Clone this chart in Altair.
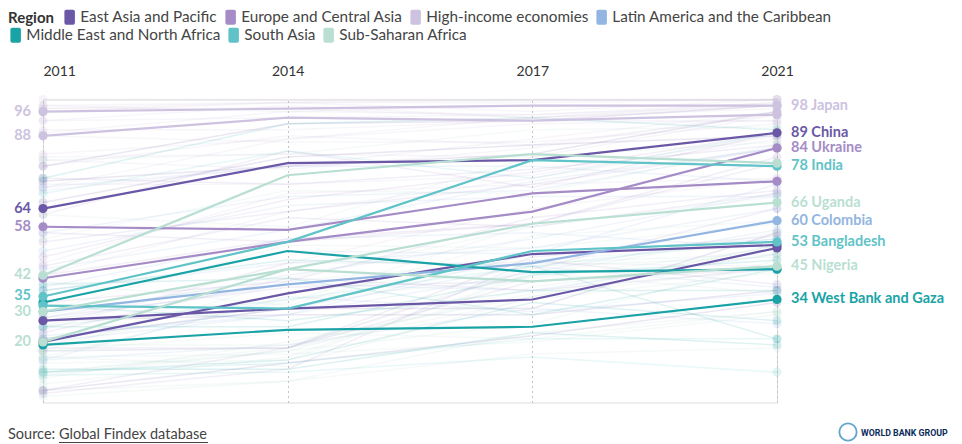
import altair as alt
import pandas as pd

years = [2011, 2014, 2017, 2021]
regions = ["East Asia and Pacific", "Europe and Central Asia", "High-income economies",
           "Latin America and the Caribbean", "Middle East and North Africa", "South Asia",
           "Sub-Saharan Africa"]
region_colors = ["#6a58a6", "#a58cc6", "#cdc2df", "#93b5e1", "#1aa3a6", "#5fc3c7", "#b9dfd2"]

# Highlighted economies
hl_names = ["Japan", "United States", "China", "Philippines", "Indonesia", "Turkey", "Ukraine",
            "Colombia", "Algeria", "West Bank and Gaza", "India", "Bangladesh", "Uganda",
            "Nigeria", "Kenya"]
hl_regions = ["High-income economies", "High-income economies", "East Asia and Pacific",
              "East Asia and Pacific", "East Asia and Pacific", "Europe and Central Asia",
              "Europe and Central Asia", "Latin America and the Caribbean",
              "Middle East and North Africa", "Middle East and North Africa", "South Asia",
              "South Asia", "Sub-Saharan Africa", "Sub-Saharan Africa", "Sub-Saharan Africa"]
hl_2011 = [96, 88, 64, 27, 20, 58, 41, 30, 33, 19, 35, 32, 20, 30, 42]
hl_2014 = [97, 94, 79, 31, 36, 57, 53, 39, 50, 24, 53, 31, 44, 44, 75]
hl_2017 = [98, 93, 80, 34, 49, 69, 63, 46, 43, 25, 80, 50, 59, 40, 82]
hl_2021 = [98, 95, 89, 51, 52, 73, 84, 60, 44, 34, 78, 53, 66, 45, 79]
hl_left_label = [True, True, True, False, False, True, False, False, False, False, True, False,
                 True, True, True]
hl_right_label = [True, False, True, False, False, False, True, True, False, True, True, True,
                  True, True, False]

# Background economies (faint lines)
bg_names = ["Denmark", "Germany", "Canada", "United Kingdom", "France", "Spain", "Italy", "Korea",
            "Singapore", "Hong Kong", "Israel", "Greece", "Portugal", "Poland", "Hungary",
            "Croatia", "Czechia", "Slovakia", "Chile", "Saudi Arabia", "Uruguay", "Panama",
            "Russia", "Kazakhstan", "Serbia", "Bulgaria", "Romania", "Georgia", "Armenia",
            "Kyrgyz Republic", "Tajikistan", "Uzbekistan", "Moldova", "Albania",
            "North Macedonia", "Bosnia and Herzegovina",
            "Thailand", "Malaysia", "Mongolia", "Vietnam", "Cambodia", "Lao PDR",
            "Brazil", "Argentina", "Mexico", "Peru", "Ecuador", "Bolivia", "Costa Rica",
            "Dominican Republic", "El Salvador", "Honduras", "Nicaragua", "Paraguay", "Venezuela",
            "Jamaica",
            "Egypt", "Morocco", "Tunisia", "Jordan", "Iran", "Iraq", "Lebanon",
            "Pakistan", "Nepal", "Sri Lanka", "Afghanistan",
            "South Africa", "Ghana", "Tanzania", "Zambia", "Zimbabwe", "Senegal", "Mali", "Benin",
            "Burkina Faso", "Cameroon", "Cote d'Ivoire", "Guinea", "Malawi", "Niger",
            "Sierra Leone", "Togo", "Mauritius", "Namibia", "Botswana", "Congo, Rep.", "Gabon",
            "Liberia", "Mauritania"]
bg_regions = (["High-income economies"] * 22 + ["Europe and Central Asia"] * 14
              + ["East Asia and Pacific"] * 6 + ["Latin America and the Caribbean"] * 14
              + ["Middle East and North Africa"] * 7 + ["South Asia"] * 4
              + ["Sub-Saharan Africa"] * 23)
bg_2011 = [100, 98, 96, 97, 97, 93, 71, 93, 98, 89, 90, 78, 82, 70, 72, 88, 81, 80, 42, 46, 24, 25,
           48, 42, 62, 53, 45, 33, 17, 4, 3, 23, 18, 28, 74, 56,
           73, 66, 78, 21, 4, 27,
           56, 33, 27, 20, 37, 28, 50, 38, 14, 21, 14, 22, 44, 71,
           10, 39, 32, 25, 74, 11, 37,
           10, 25, 69, 9,
           54, 29, 17, 21, 40, 6, 8, 10, 13, 15, 15, 4, 17, 2, 15, 10, 80, 62, 30, 9, 19, 19, 17]
bg_2014 = [100, 99, 99, 99, 97, 98, 87, 94, 96, 96, 90, 88, 87, 78, 72, 86, 82, 77, 63, 69, 46, 46,
           67, 54, 83, 63, 61, 40, 18, 18, 11, 41, 18, 38, 72, 53,
           78, 81, 92, 31, 13, 29,
           68, 50, 39, 29, 46, 42, 65, 54, 35, 31, 19, 29, 57, 78,
           14, 41, 27, 25, 92, 11, 47,
           13, 34, 83, 10,
           70, 41, 40, 36, 32, 15, 20, 17, 14, 12, 34, 7, 18, 7, 16, 18, 82, 58, 52, 17, 33, 19, 23]
bg_2017 = [100, 99, 100, 96, 94, 94, 94, 95, 98, 95, 93, 85, 92, 87, 75, 86, 81, 84, 74, 72, 64, 46,
           76, 59, 71, 72, 58, 61, 48, 40, 47, 37, 44, 40, 77, 59,
           82, 85, 93, 31, 22, 29,
           70, 49, 37, 43, 51, 54, 68, 56, 30, 45, 31, 49, 73, 78,
           33, 29, 37, 42, 94, 23, 45,
           21, 45, 74, 15,
           69, 58, 47, 46, 55, 42, 35, 38, 43, 35, 41, 23, 34, 16, 20, 45, 90, 81, 51, 26, 59, 36, 21]
bg_2021 = [100, 100, 100, 100, 99, 98, 97, 99, 98, 98, 93, 95, 93, 96, 88, 92, 95, 96, 87, 74, 74, 45,
           89, 81, 89, 84, 69, 70, 55, 45, 39, 44, 64, 44, 85, 79,
           96, 88, 98, 56, 33, 37,
           84, 72, 49, 57, 64, 69, 68, 51, 36, 38, 26, 54, 84, 73,
           27, 44, 37, 47, 90, 19, 21,
           21, 54, 89, 10,
           85, 68, 52, 49, 60, 56, 45, 49, 36, 52, 51, 30, 43, 18, 29, 48, 91, 86, 59, 47, 66, 52, 30]

source_prefix = "Source:"
source_link = "Global Findex database"
logo_text = "WORLD BANK GROUP"

rows = []
for i, n in enumerate(bg_names):
    for y, v in zip(years, [bg_2011[i], bg_2014[i], bg_2017[i], bg_2021[i]]):
        rows.append(dict(name=n, region=bg_regions[i], year=y, value=v, hl=False,
                         left=False, right=False, label=""))
for i, n in enumerate(hl_names):
    for y, v in zip(years, [hl_2011[i], hl_2014[i], hl_2017[i], hl_2021[i]]):
        rows.append(dict(name=n, region=hl_regions[i], year=y, value=v, hl=True,
                         left=hl_left_label[i], right=hl_right_label[i],
                         label=f"{v} {n}"))
df = pd.DataFrame(rows)

FONT = "Lato"
color_scale = alt.Scale(domain=regions, range=region_colors)
xenc = alt.X("year:O", scale=alt.Scale(type="point", padding=0),
             axis=alt.Axis(orient="top", title=None, labelAngle=0, ticks=False, domain=False,
                           labelFontSize=14, labelColor="#333", labelPadding=21, labelFont=FONT,
                           grid=True, gridDash=[2, 3], gridColor="#c4c4c4", gridWidth=1,
                           labelAlign={"condition": {"test": "datum.label == '2011'", "value": "left"},
                                       "value": "center"}))
yenc = alt.Y("value:Q", scale=alt.Scale(domain=[0, 100], nice=False), axis=None)
cenc = alt.Color("region:N", scale=color_scale, legend=None)

base = alt.Chart(df)
bg = base.transform_filter("!datum.hl")
hl = base.transform_filter("datum.hl")

bg_lines = bg.mark_line(strokeWidth=1.5, opacity=0.14).encode(x=xenc, y=yenc, color=cenc, detail="name:N")
bg_dots = bg.transform_filter("datum.year == 2011 || datum.year == 2021").mark_circle(
    size=80, opacity=0.18).encode(x=xenc, y=yenc, color=cenc)
hl_lines = hl.mark_line(strokeWidth=2.2).encode(x=xenc, y=yenc, color=cenc, detail="name:N")
hl_dots = hl.transform_filter("datum.year == 2011 || datum.year == 2021").mark_circle(
    size=85, opacity=1).encode(x=xenc, y=yenc, color=cenc)
left_labels = hl.transform_filter("datum.year == 2011 && datum.left").mark_text(
    align="right", baseline="middle", dx=-12, fontSize=14.5, fontWeight="bold", font=FONT).encode(
    x=xenc, y=yenc, color=cenc, text="value:Q")
right_labels = hl.transform_filter("datum.year == 2021 && datum.right").mark_text(
    align="left", baseline="middle", dx=14, fontSize=14.5, fontWeight="bold", font=FONT).encode(
    x=xenc, y=yenc, color=cenc, text="label:N")

swatch = ("M-0.45,-1 L0.45,-1 Q0.7,-1 0.7,-0.75 L0.7,0.75 Q0.7,1 0.45,1 L-0.45,1 "
          "Q-0.7,1 -0.7,0.75 L-0.7,-0.75 Q-0.7,-1 -0.45,-1 Z")
leg_common = dict(orient="none", direction="horizontal", labelFontSize=15.3, labelFont=FONT,
                  labelColor="#444", labelLimit=0, symbolType=swatch, symbolSize=225,
                  symbolStrokeWidth=0, symbolOpacity=1, labelOffset=3, columnPadding=5,
                  titleFont=FONT)
legA_df = pd.DataFrame({"region": regions[:4]})
legB_df = pd.DataFrame({"region": regions[4:]})
legA = alt.Chart(legA_df).mark_square(opacity=0).encode(
    fill=alt.Fill("region:N", scale=alt.Scale(domain=regions[:4], range=region_colors[:4]),
                  legend=alt.Legend(title="Region", titleOrient="left", titleFontSize=15,
                                    titleFontWeight="bold", titleColor="#333", titlePadding=8,
                                    legendX=-35, legendY=-90, **leg_common)))
legB = alt.Chart(legB_df).mark_square(opacity=0).encode(
    fill=alt.Fill("region:N", scale=alt.Scale(domain=regions[4:], range=region_colors[4:]),
                  legend=alt.Legend(title=None, legendX=-35, legendY=-72, **leg_common)))

ann_df = pd.DataFrame({"k": [0]})
src1 = alt.Chart(ann_df).mark_text(align="left", baseline="alphabetic", fontSize=14.5, font=FONT,
                                   color="#444").encode(x=alt.value(-35), y=alt.value(339.5),
                                                        text=alt.value(source_prefix))
src2 = alt.Chart(ann_df).mark_text(align="left", baseline="alphabetic", fontSize=14.5, font=FONT,
                                   color="#444").encode(x=alt.value(16), y=alt.value(339.5),
                                                        text=alt.value(source_link))
underline = alt.Chart(ann_df).mark_rule(color="#444", strokeWidth=1).encode(
    x=alt.value(16), x2=alt.value(165), y=alt.value(343))
globe = alt.Chart(ann_df).mark_point(shape="circle", size=300, filled=False, color="#1d7fb8",
                                     strokeWidth=1.8).encode(x=alt.value(805), y=alt.value(332.5))
logo = alt.Chart(ann_df).mark_text(align="left", baseline="middle", fontSize=8.8, font="Roboto",
                                   fontWeight="bold", color="#0b2c5a").encode(
    x=alt.value(818), y=alt.value(333), text=alt.value(logo_text))

chart = alt.layer(bg_lines, bg_dots, hl_lines, hl_dots, left_labels, right_labels, legA, legB,
                  src1, src2, underline, globe, logo).resolve_scale(
    fill="independent").resolve_legend(fill="independent").properties(
    width=734, height=303, autosize="none",
    padding={"left": 35, "top": 91.5, "right": 177, "bottom": 41.5}
).configure_view(stroke=None).configure(font=FONT)

chart.save("out.html", embed_options={"renderer": "svg", "actions": False})
